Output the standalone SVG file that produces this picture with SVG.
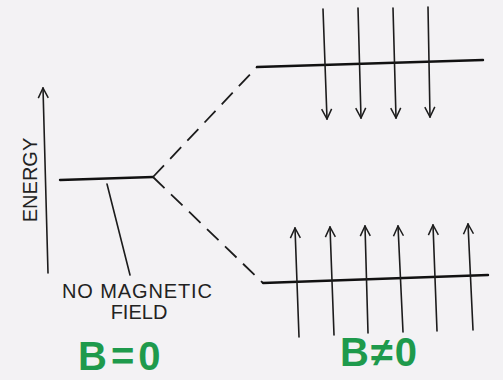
<svg xmlns="http://www.w3.org/2000/svg" width="503" height="380" viewBox="0 0 503 380">
<defs>
<style>
.ln{stroke:#1c1c1c;stroke-width:1.6;fill:none;stroke-linecap:round}
.lv{stroke:#111;stroke-width:2.4;fill:none;stroke-linecap:round}
.ds{stroke:#1c1c1c;stroke-width:1.8;fill:none;stroke-dasharray:16 9}
.lbl{font-family:"Liberation Sans",Arial,sans-serif;font-size:20px;fill:#222}
.grn{font-family:"Liberation Sans",Arial,sans-serif;font-weight:bold;font-size:40px;fill:#1e9a4c}
</style>
<marker id="ah" viewBox="0 0 12 12" refX="11" refY="6" markerWidth="12" markerHeight="12" markerUnits="userSpaceOnUse" orient="auto">
<path d="M1,1 L11,6 L1,11" fill="none" stroke="#1c1c1c" stroke-width="1.5"/>
</marker>
</defs>
<rect width="503" height="380" fill="#f3f2f4"/>
<g id="axis">
<line class="ln" x1="48" y1="273" x2="43" y2="88" marker-end="url(#ah)"/>
<text class="lbl" transform="translate(37,180) rotate(-90)" text-anchor="middle">ENERGY</text>
</g>
<g id="level-zero">
<line class="lv" x1="60" y1="180" x2="153" y2="177"/>
<line class="ln" x1="107" y1="184" x2="130" y2="275"/>
<text class="lbl" x="137" y="298" text-anchor="middle" font-size="21" textLength="150">NO MAGNETIC</text>
<text class="lbl" x="139" y="319" text-anchor="middle" font-size="20">FIELD</text>
<text class="grn" x="78" y="370" letter-spacing="4">B=0</text>
</g>
<g id="connectors">
<path class="ds" d="M153,177 L257,67"/>
<path class="ds" d="M153,177 L263,283"/>
</g>
<g id="level-upper">
<line class="lv" x1="257" y1="67" x2="483" y2="60"/>
<line class="ln" x1="323" y1="9" x2="327" y2="119" marker-end="url(#ah)"/>
<line class="ln" x1="358" y1="8" x2="361" y2="118" marker-end="url(#ah)"/>
<line class="ln" x1="393" y1="8" x2="396" y2="118" marker-end="url(#ah)"/>
<line class="ln" x1="428" y1="7" x2="430" y2="117" marker-end="url(#ah)"/>
</g>
<g id="level-lower">
<line class="lv" x1="263" y1="283" x2="488" y2="275"/>
<line class="ln" x1="299" y1="337" x2="295" y2="228" marker-end="url(#ah)"/>
<line class="ln" x1="334" y1="335" x2="330" y2="227" marker-end="url(#ah)"/>
<line class="ln" x1="368" y1="333" x2="365" y2="226" marker-end="url(#ah)"/>
<line class="ln" x1="403" y1="332" x2="398" y2="226" marker-end="url(#ah)"/>
<line class="ln" x1="437" y1="331" x2="433" y2="225" marker-end="url(#ah)"/>
<line class="ln" x1="473" y1="330" x2="468" y2="224" marker-end="url(#ah)"/>
<text class="grn" x="340" y="366" letter-spacing="2">B≠0</text>
</g>
</svg>
